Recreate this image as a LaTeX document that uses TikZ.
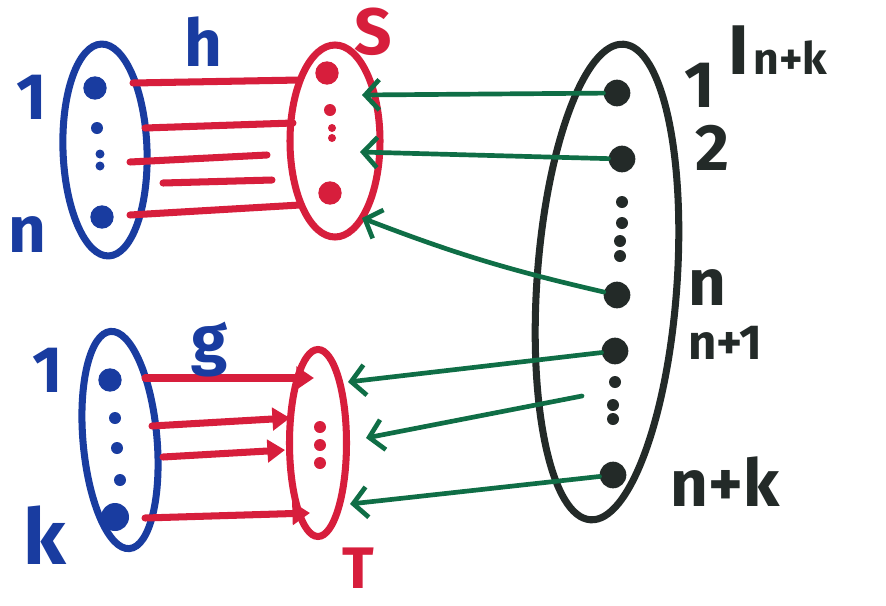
\documentclass[tikz,border=0pt]{standalone}
\usepackage{fontspec}
\setmainfont{Fira Sans}
\usetikzlibrary{shapes.geometric,arrows.meta}
\definecolor{mblue}{RGB}{25,60,160}
\definecolor{mred}{RGB}{215,30,60}
\definecolor{mgreen}{RGB}{15,110,70}
\definecolor{mblack}{RGB}{35,42,40}
\begin{document}
\begin{tikzpicture}[x=0.03cm,y=-0.03cm,
  setbox/.style={ellipse, draw, line width=6pt, inner sep=0pt},
  bigdot/.style={circle, fill, inner sep=0pt, minimum size=0.7cm},
  smalldot/.style={circle, fill, inner sep=0pt, minimum size=0.36cm},
  redline/.style={mred, line width=6pt, line cap=round},
  redarrow/.style={redline, -{Triangle[length=15pt,width=19pt]}},
  greenarrow/.style={mgreen, line width=4pt, line cap=round, -{Straight Barb[length=12pt,width=26pt]}},
  lbl/.style={font=\fontsize{56}{56}\selectfont\bfseries, inner sep=0pt}]
\useasboundingbox (0,0) rectangle (886,605);
\fill[white] (0,0) rectangle (886,605);

% ---------- sets ----------
\node[setbox, mblue, minimum width=2.52cm, minimum height=6.36cm, rotate=2] (A) at (105,150) {};
\node[setbox, mred, minimum width=2.7cm, minimum height=5.76cm] (S) at (335,141) {};
\node[setbox, mblue, minimum width=2.22cm, minimum height=6.54cm, rotate=5] (B) at (120,440) {};
\node[setbox, mred, minimum width=1.71cm, minimum height=5.61cm] (T) at (318,443) {};
\node[setbox, mblack, minimum width=4.2cm, minimum height=14.3cm, rotate=-4] (I) at (607,282) {};

% ---------- dots ----------
\node[bigdot, mblue] (a1) at (95,88) {};
\node[smalldot, mblue] (a2) at (97,128) {};
\node[smalldot, mblue, minimum size=0.27cm] (a3) at (100,154) {};
\node[smalldot, mblue, minimum size=0.27cm] (a4) at (100,166) {};
\node[bigdot, mblue] (an) at (102,217) {};

\node[bigdot, mred] (s1) at (327,73) {};
\node[smalldot, mred] (s2) at (330,110) {};
\node[smalldot, mred, minimum size=0.24cm] (s3) at (332,128) {};
\node[smalldot, mred, minimum size=0.24cm] (s4) at (332,138) {};
\node[bigdot, mred] (sn) at (330,193) {};

\node[bigdot, mblue] (b1) at (110,380) {};
\node[smalldot, mblue] (b2) at (115,418) {};
\node[smalldot, mblue] (b3) at (117,448) {};
\node[smalldot, mblue] (b4) at (120,480) {};
\node[bigdot, mblue, minimum size=0.84cm] (bk) at (115,517) {};

\node[smalldot, mred] (t1) at (320,427) {};
\node[smalldot, mred] (t2) at (320,445) {};
\node[smalldot, mred] (t3) at (320,463) {};

\node[bigdot, mblack, minimum size=0.8cm] (i1) at (617,93) {};
\node[bigdot, mblack, minimum size=0.8cm] (i2) at (622,159) {};
\node[smalldot, mblack] (id1) at (622,202) {};
\node[smalldot, mblack] (id2) at (622,223) {};
\node[smalldot, mblack] (id3) at (620,241) {};
\node[smalldot, mblack] (id4) at (620,256) {};
\node[bigdot, mblack, minimum size=0.8cm] (in) at (617,295) {};
\node[bigdot, mblack, minimum size=0.8cm] (in1) at (615,351) {};
\node[smalldot, mblack] (id5) at (615,382) {};
\node[smalldot, mblack] (id6) at (613,405) {};
\node[smalldot, mblack] (id7) at (613,419) {};
\node[bigdot, mblack, minimum size=0.8cm] (ink) at (613,475) {};

% ---------- h : A -> S ----------
\coordinate (h1a) at (133,83);  \coordinate (h1b) at (300,80);
\coordinate (h2a) at (145,128); \coordinate (h2b) at (293,123);
\coordinate (h3a) at (130,162); \coordinate (h3b) at (267,155);
\coordinate (h4a) at (163,183); \coordinate (h4b) at (272,180);
\coordinate (h5a) at (130,215); \coordinate (h5b) at (300,205);
\draw[redline] (h1a) -- (h1b);
\draw[redline] (h2a) -- (h2b);
\draw[redline] (h3a) -- (h3b);
\draw[redline] (h4a) -- (h4b);
\draw[redline] (h5a) -- (h5b);

% ---------- g : B -> T ----------
\coordinate (g1a) at (145,378); \coordinate (g1b) at (314,378);
\coordinate (g2a) at (152,426); \coordinate (g2b) at (290,418);
\coordinate (g3a) at (163,457); \coordinate (g3b) at (285,450);
\coordinate (g4a) at (145,518); \coordinate (g4b) at (310,513);
\draw[redarrow] (g1a) -- (g1b);
\draw[redarrow] (g2a) -- (g2b);
\draw[redarrow] (g3a) -- (g3b);
\draw[redarrow] (g4a) -- (g4b);

% ---------- green arrows ----------
\coordinate (e1) at (362,95);
\coordinate (e2) at (360,152);
\coordinate (e3) at (362,218);
\coordinate (e4) at (348,382);
\coordinate (e5) at (366,438);
\coordinate (e6) at (350,504);
\coordinate (f5) at (582,396);
\draw[greenarrow] (i1) -- (e1);
\draw[greenarrow] (i2) -- (e2);
\draw[greenarrow] (in) to[bend left=4] (e3);
\draw[greenarrow] (in1) -- (e4);
\draw[greenarrow] (f5) -- (e5);
\draw[greenarrow] (ink) -- (e6);

% ---------- labels ----------
\node[lbl, mblue] (lA1) at (32,97) {1};
\node[lbl, mblue] (lAn) at (27,235) {n};
\node[lbl, mblue] (lh) at (203,42) {h};
\node[lbl, mred] (lS) at (373,32) {S};
\node[lbl, mblue] (lB1) at (48,370) {1};
\node[lbl, mblue, font=\fontsize{66}{66}\selectfont\bfseries] (lBk) at (45,535) {k};
\node[lbl, mblue] (lg) at (210,350) {g};
\node[lbl, mred, font=\fontsize{50}{50}\selectfont\bfseries] (lT) at (358,568) {T};
\node[lbl, mblack] (lI1) at (700,85) {1};
\node[lbl, mblack] (lI2) at (712,148) {2};
\node[lbl, mblack, anchor=base west, font=\fontsize{60}{60}\selectfont\bfseries] (lIname) at (728,74) {I\kern4pt{\fontsize{38}{38}\selectfont n+k}};
\node[lbl, mblack] (lIn) at (707,288) {n};
\node[lbl, mblack, font=\fontsize{42}{42}\selectfont\bfseries] (lIn1) at (725,343) {n+1};
\node[lbl, mblack] (lInk) at (725,482) {n+k};
\end{tikzpicture}
\end{document}
